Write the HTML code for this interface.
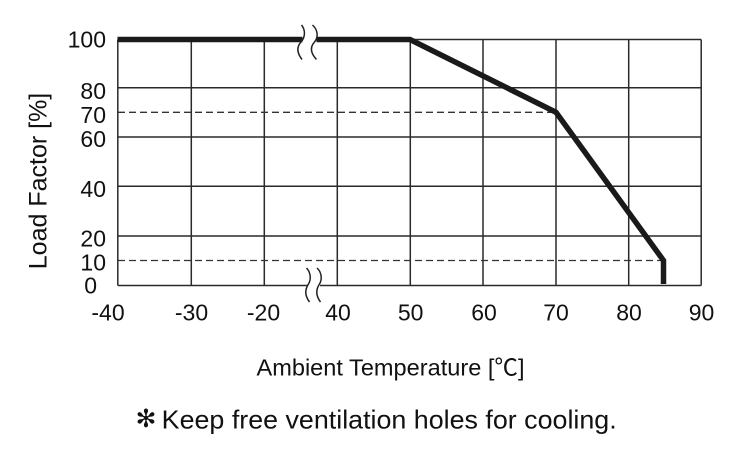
<!DOCTYPE html>
<html><head><meta charset="utf-8"><style>
html,body{margin:0;padding:0;background:#fff;}
svg{display:block;}
text{font-family:"Liberation Sans","Noto Sans CJK JP",sans-serif;fill:#111;}
</style></head><body>
<svg width="740" height="461" viewBox="0 0 740 461" xmlns="http://www.w3.org/2000/svg">
<rect width="740" height="461" fill="#fff"/>
<g stroke="#2a2a2a" stroke-width="1.5" fill="none">
  <line x1="191.3" y1="39.5" x2="191.3" y2="285.5"/>
  <line x1="264.3" y1="39.5" x2="264.3" y2="285.5"/>
  <line x1="337.3" y1="39.5" x2="337.3" y2="285.5"/>
  <line x1="410.3" y1="39.5" x2="410.3" y2="285.5"/>
  <line x1="483" y1="39.5" x2="483" y2="285.5"/>
  <line x1="556" y1="39.5" x2="556" y2="285.5"/>
  <line x1="628.7" y1="39.5" x2="628.7" y2="285.5"/>
  <line x1="701.2" y1="39.5" x2="701.2" y2="285.5"/>
  <line x1="117.8" y1="39.5" x2="117.8" y2="285.5"/>
  <line x1="117.8" y1="87.7" x2="701.2" y2="87.7"/>
  <line x1="117.8" y1="137" x2="701.2" y2="137"/>
  <line x1="117.8" y1="186.3" x2="701.2" y2="186.3"/>
  <line x1="117.8" y1="236" x2="701.2" y2="236"/>
  <line x1="117.8" y1="39.5" x2="302" y2="39.5"/>
  <line x1="317" y1="39.5" x2="701.2" y2="39.5"/>
  <line x1="117.8" y1="285.5" x2="307.5" y2="285.5"/>
  <line x1="320" y1="285.5" x2="701.2" y2="285.5"/>
</g>
<g stroke="#333" stroke-width="1.3" stroke-dasharray="7,4" fill="none">
  <line x1="118" y1="112.3" x2="556" y2="112.3"/>
  <line x1="118" y1="260.5" x2="663.5" y2="260.5"/>
</g>
<g stroke="#1a1a1a" stroke-width="5.5" fill="none" stroke-linejoin="miter">
  <line x1="117.5" y1="39.5" x2="302.5" y2="39.5"/>
  <polyline points="316.5,39.5 410,39.5 556,112.3 663.5,260.5 663.5,284"/>
</g>
<g stroke="#222" stroke-width="1.5" fill="none">
  <path d="M301.5,25 C305.5,30 305.5,37 301,42 C296.5,47 297,53 302,59.5"/>
  <path d="M312.5,25 C318,30 318.5,37 314.5,42 C310,47 310.5,53 316.5,59.5"/>
  <path d="M306.5,268 C310.5,272 311.5,279 308.5,284 C304.5,290 305,296 309.5,302"/>
  <path d="M317,268 C321.5,272 322.5,279 319.5,284 C315.5,290 316,296 320.5,302"/>
</g>
<g font-size="23" text-anchor="end">
  <text x="106" y="47.5">100</text>
  <text x="106" y="99">80</text>
  <text x="106" y="123">70</text>
  <text x="106" y="147">60</text>
  <text x="106" y="197">40</text>
  <text x="106" y="246.5">20</text>
  <text x="106" y="270.5">10</text>
  <text x="97" y="293.5">0</text>
</g>
<g font-size="23" text-anchor="middle">
  <text x="108" y="320.5">-40</text>
  <text x="191.5" y="320.5">-30</text>
  <text x="263.5" y="320.5">-20</text>
  <text x="338" y="320.5">40</text>
  <text x="410.7" y="320.5">50</text>
  <text x="484" y="320.5">60</text>
  <text x="556" y="320.5">70</text>
  <text x="629" y="320.5">80</text>
  <text x="701.5" y="320.5">90</text>
</g>
<text transform="translate(46.7,181) rotate(-90)" font-size="25" text-anchor="middle">Load Factor [%]</text>
<text x="256.5" y="375.7" font-size="23.5" textLength="268" lengthAdjust="spacingAndGlyphs">Ambient Temperature [℃]</text>
<text x="146" y="427" font-size="25" text-anchor="middle" style="font-family:'DejaVu Sans',sans-serif;font-weight:bold">✻</text>
<text x="161.7" y="428.3" font-size="26" textLength="455" lengthAdjust="spacingAndGlyphs">Keep free ventilation holes for cooling.</text>
</svg>
</body></html>
